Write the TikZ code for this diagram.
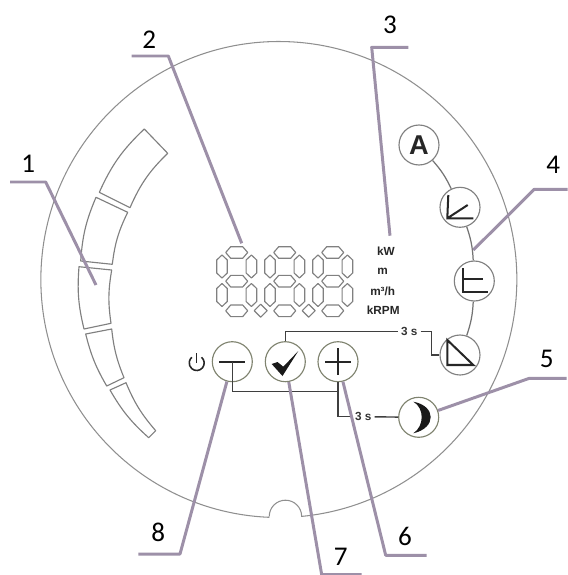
\documentclass[tikz,border=0pt]{standalone}
\usepackage{fontspec}
\setmainfont{Carlito}
\newfontfamily\panelfont{Liberation Sans}
\usetikzlibrary{arrows.meta,calc,positioning}
\definecolor{leadercol}{HTML}{9D90A8}
\definecolor{rimcol}{HTML}{8F8F8F}
\definecolor{keycol}{HTML}{7F836F}
\definecolor{wirecol}{HTML}{3F3F3F}
\tikzset{
  shell/.style={rimcol,line width=0.6pt},
  seg/.style={gray,line width=0.65pt,line join=round},
  leader/.style={leadercol,line width=1.7pt,line join=round},
  wire/.style={wirecol,line width=0.8pt},
  arcwire/.style={gray!90!black,line width=0.7pt},
  glyph/.style={black!85,line width=1.15pt,line join=miter},
  keybtn/.style={circle,draw=keycol,line width=0.65pt,minimum size=0.8cm,inner sep=0pt},
  modebtn/.style={circle,draw=gray,line width=0.65pt,minimum size=0.8cm,inner sep=0pt},
  tag/.style={font=\fontsize{15.4}{18}\selectfont,inner sep=0pt},
  unitlab/.style={font=\panelfont\bfseries\fontsize{6.7}{8}\selectfont,text=black!85,inner sep=0pt},
  timelab/.style={font=\panelfont\bfseries\fontsize{6.7}{8}\selectfont,text=black!80,inner sep=1.6pt},
  hseg/.pic={\draw[seg] (-11,0)--(-6,-5.8)--(6,-5.8)--(11,0)--(6,5.8)--(-6,5.8)--cycle;},
  vseg/.pic={\draw[seg] (0,-11.5)--(5.3,-6.5)--(5.3,6.5)--(0,11.5)--(-5.3,6.5)--(-5.3,-6.5)--cycle;}
}
\begin{document}
\begin{tikzpicture}[x=0.02cm,y=-0.02cm]
\useasboundingbox (0,0) rectangle (568,575);
\coordinate (notchl) at (269.3,517.3);
\coordinate (notchc) at (279,281);
\draw[shell] (notchl) arc[start angle=92.3,end angle=444.5,radius=238] arc[start angle=0,end angle=-180,radius=16.2];
\foreach \ax/\ay/\bx/\by/\cx/\cy/\dx/\dy/\ba in {
99.3/192.3/144.3/129/167.7/153.3/130/207.7/11,
80.7/261/96/197.3/127.7/212.3/112.3/264.3/9.5,
84/329/79/266.7/111.7/270/111/323.3/9,
106.7/386/85.7/334/111.7/329/124/377.7/8,
148.7/437.7/110/390/126/382.7/155.7/430.7/9}{
\draw[seg] (\ax,\ay) to[bend left=\ba] (\bx,\by) -- (\cx,\cy) to[bend right=\ba] (\dx,\dy) -- cycle;
}
\foreach \d in {0,48,96}{
\begin{scope}[shift={(\d,0)}]
\foreach \yy in {252.5,281.2,310.8}{\pic at (236.7,\yy) {hseg};}
\foreach \xx in {222,251.4}{
\pic at (\xx,266.5) {vseg};
\pic at (\xx,295) {vseg};
}
\end{scope}
}
\foreach \xx in {260.7,308.7}{
\draw[seg] (\xx-6.5,310.7)--(\xx,304.2)--(\xx+6.5,310.7)--(\xx,317.2)--cycle;
}
\node[unitlab] (ukw) at (386,251) {kW};
\node[unitlab] (um) at (382.7,271.7) {m};
\node[unitlab] (umh) at (382.7,291.7) {m³/h};
\node[unitlab] (urpm) at (383.3,310.7) {kRPM};
\node[modebtn] (auto) at (419,145) {};
\node[font=\panelfont\bfseries\fontsize{15.5}{18}\selectfont,inner sep=0pt,text=black!85] (autoa) at (auto) {A};
\node[modebtn] (prop) at (460,207.3) {};
\node[modebtn] (const) at (474.3,281) {};
\node[modebtn] (ramp) at (460,355) {};
\draw[arcwire] (auto) to[bend left=8] (prop);
\draw[arcwire] (prop) to[bend left=8] (const);
\draw[arcwire] (const) to[bend left=8] (ramp);
\draw[glyph] (448.3,195)--(447.3,218.3)--(473.3,218.3) (447.3,218.3)--(467.7,205);
\draw[glyph] (462.7,268.3)--(462.7,291.7)--(488.3,291.7) (462.7,279)--(483.3,279);
\draw[glyph] (447.3,340)--(447.3,365)--(473.3,365)--cycle;
\node[keybtn] (minus) at (232.3,361.7) {};
\node[keybtn] (okay) at (285.3,361.7) {};
\node[keybtn] (plus) at (338,361.7) {};
\node[keybtn] (moon) at (418.7,417.3) {};
\draw[glyph] (219.3,361.7)--(245,361.7);
\draw[glyph] (325,361.7)--(350.7,361.7) (338,348)--(338,375);
\fill[black!90] (271.7,364)--(277.5,362)--(283.3,366.7)--(298.3,351)--(282.5,376)--cycle;
\fill[black!90] (413.3,401.7) .. controls (436.5,406) and (436.5,428) .. (413.3,433.3) .. controls (424.5,426) and (424.5,408) .. cycle;
\coordinate (powc) at (196.7,363);
\draw[black!85,line width=0.9pt] (powc)++(-50:7.5) arc[start angle=-50,end angle=230,radius=7.5];
\draw[black!85,line width=0.9pt] (powc) -- ++(0,-10);
\node[timelab] (timea) at (409.3,331.7) {3 s};
\node[timelab] (timeb) at (363.3,416.7) {3 s};
\coordinate (stepa) at (431.7,331.7);
\coordinate (busr) at (338,391.7);
\draw[wire] (okay) |- (timea);
\draw[wire] (timea) -- (stepa) |- (ramp);
\draw[wire] (minus.center) |- (busr);
\draw[wire] (plus) |- (timeb);
\draw[wire] (timeb) -- (moon);
\foreach \n/\ax/\ay/\bx/\by in {
1/10/182/45.7/182,
2/131.7/56/168.3/56,
3/408.3/47.3/371.7/47.3,
4/567.7/189.3/534.3/189.3,
5/566.7/378.3/529.3/378.3,
6/426.7/555.3/385.7/555.3,
7/361.7/574.7/321.7/574.7,
8/138.3/554/180/554}{
\coordinate (ld\n a) at (\ax,\ay);
\coordinate (ld\n b) at (\bx,\by);
}
\coordinate (ld1c) at (96,285);
\coordinate (ld2c) at (241.7,243.3);
\coordinate (ld3c) at (390,235.7);
\coordinate (ld4c) at (473.3,250);
\foreach \n/\e in {1/ld1c,2/ld2c,3/ld3c,4/ld4c,5/moon,6/plus,7/okay,8/minus}{
\draw[leader] (ld\n a) -- (ld\n b) -- (\e);
}
\foreach \n/\px/\py in {1/28.3/164,2/149.3/39.3,3/390/25,4/553.3/165,5/546.7/359.3,6/405/536.7,7/340.7/557.3,8/158.3/532.7}{
\node[tag] (lab\n) at (\px,\py) {\n};
}
\end{tikzpicture}
\end{document}
